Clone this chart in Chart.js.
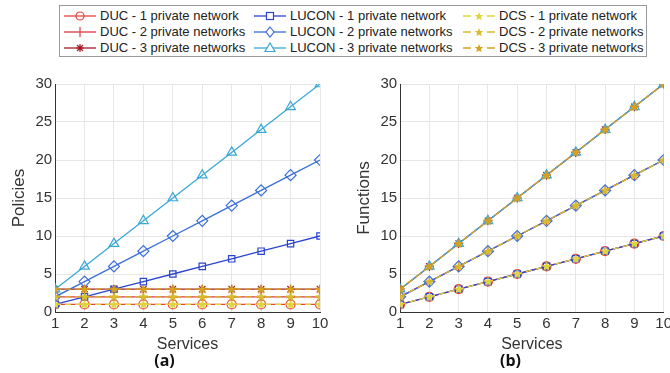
<!DOCTYPE html>
<html>
<head>
<meta charset="utf-8">
<script src="https://cdn.jsdelivr.net/npm/chart.js@4"></script>
<style>
  body { margin:0; background:#fff; font-family:"Liberation Sans", Arial, sans-serif; }
  #wrap { position:relative; width:670px; height:373px; overflow:hidden; }
  #legend { position:absolute; left:59px; top:5px; width:588px; height:52px; border:1px solid #999; box-sizing:border-box; }
  .item { position:absolute; height:16px; font-size:13px; line-height:16px; color:#222; white-space:nowrap; }
  .item svg { position:absolute; left:0; top:0; }
  .item span { position:absolute; left:37px; top:0; }
  .box { position:absolute; }
</style>
</head>
<body>
<div id="wrap">
  <div id="legend"></div>
  <div class="box" style="left:0;top:62px;width:335px;height:310px;"><canvas id="chartA"></canvas></div>
  <div class="box" style="left:335px;top:62px;width:340px;height:310px;"><canvas id="chartB"></canvas></div>
</div>
<script>
const services = [1, 2, 3, 4, 5, 6, 7, 8, 9, 10];

// (a) Policies
const polDuc1 = [1, 1, 1, 1, 1, 1, 1, 1, 1, 1];
const polDuc2 = [2, 2, 2, 2, 2, 2, 2, 2, 2, 2];
const polDuc3 = [3, 3, 3, 3, 3, 3, 3, 3, 3, 3];
const polLucon1 = [1, 2, 3, 4, 5, 6, 7, 8, 9, 10];
const polLucon2 = [2, 4, 6, 8, 10, 12, 14, 16, 18, 20];
const polLucon3 = [3, 6, 9, 12, 15, 18, 21, 24, 27, 30];
const polDcs1 = [1, 1, 1, 1, 1, 1, 1, 1, 1, 1];
const polDcs2 = [2, 2, 2, 2, 2, 2, 2, 2, 2, 2];
const polDcs3 = [3, 3, 3, 3, 3, 3, 3, 3, 3, 3];

// (b) Functions
const funDuc1 = [1, 2, 3, 4, 5, 6, 7, 8, 9, 10];
const funDuc2 = [2, 4, 6, 8, 10, 12, 14, 16, 18, 20];
const funDuc3 = [3, 6, 9, 12, 15, 18, 21, 24, 27, 30];
const funLucon1 = [1, 2, 3, 4, 5, 6, 7, 8, 9, 10];
const funLucon2 = [2, 4, 6, 8, 10, 12, 14, 16, 18, 20];
const funLucon3 = [3, 6, 9, 12, 15, 18, 21, 24, 27, 30];
const funDcs1 = [1, 2, 3, 4, 5, 6, 7, 8, 9, 10];
const funDcs2 = [2, 4, 6, 8, 10, 12, 14, 16, 18, 20];
const funDcs3 = [3, 6, 9, 12, 15, 18, 21, 24, 27, 30];

const yTicks = [0, 5, 10, 15, 20, 25, 30];

const seriesNames = [
  "DUC - 1 private network", "DUC - 2 private networks", "DUC - 3 private networks",
  "LUCON - 1 private network", "LUCON - 2 private networks", "LUCON - 3 private networks",
  "DCS - 1 private network", "DCS - 2 private networks", "DCS - 3 private networks"
];
const colors = ["#e8413c", "#d93a45", "#a31c28", "#2a44d0", "#3a6fd8", "#3aa8d6", "#e0d43c", "#d8bc2c", "#d6a21e"];
const shapes = ["circle", "cross", "star", "rect", "rectRot", "triangle", "fstar", "fstar", "fstar"];

// filled 5-point star marker for DCS
function starImage(color) {
  const c = document.createElement("canvas");
  c.width = 11; c.height = 11;
  const g = c.getContext("2d");
  g.beginPath();
  for (let i = 0; i < 10; i++) {
    const r = i % 2 === 0 ? 5.3 : 2.3;
    const a = -Math.PI / 2 + i * Math.PI / 5;
    const px = 5.5 + r * Math.cos(a), py = 5.8 + r * Math.sin(a);
    if (i === 0) g.moveTo(px, py); else g.lineTo(px, py);
  }
  g.closePath();
  g.fillStyle = color;
  g.fill();
  return c;
}

function makeDatasets(arrs) {
  return arrs.map((d, i) => {
    const dashed = i >= 6;
    const shape = shapes[i];
    return {
      label: seriesNames[i],
      data: d.map((v, k) => ({ x: services[k], y: v })),
      order: arrs.length - i, // later series drawn on top
      borderColor: colors[i],
      backgroundColor: shape === "fstar" ? colors[i] : "rgba(0,0,0,0)",
      borderWidth: 1.3,
      borderDash: dashed ? [6, 4] : [],
      pointStyle: shape === "fstar" ? starImage(colors[i]) : shape,
      pointRadius: shape === "triangle" ? 5.5 : (shape === "rectRot" ? 5.5 : 4.5),
      pointBorderWidth: 1.2,
      pointBorderColor: colors[i],
      pointBackgroundColor: "rgba(0,0,0,0)",
      tension: 0
    };
  });
}

function makeChart(id, arrs, yTitle, sub, pad) {
  return new Chart(document.getElementById(id), {
    type: "line",
    data: { datasets: makeDatasets(arrs) },
    options: {
      responsive: true,
      maintainAspectRatio: false,
      animation: false,
      layout: { padding: pad },
      plugins: {
        legend: { display: false },
        tooltip: { enabled: false },
        subtitle: {
          display: true, text: sub, position: "bottom", color: "#111",
          font: { family: "Open Sans", size: 16, weight: "bold", lineHeight: 1.0 },
          padding: { top: 0, bottom: 3 }
        }
      },
      scales: {
        x: {
          type: "linear", min: 1, max: 10,
          afterBuildTicks: ax => { ax.ticks = services.map(v => ({ value: v })); },
          grid: { color: "#e6e6e6", drawTicks: false },
          border: { color: "#333", width: 1 },
          ticks: { color: "#333", font: { family: "Liberation Sans", size: 15 }, padding: 3, maxRotation: 0 },
          title: { display: true, text: "Services", color: "#333", font: { family: "Liberation Sans", size: 16, lineHeight: 1.0 }, padding: { top: 1, bottom: 0 } }
        },
        y: {
          min: 0, max: 30,
          afterBuildTicks: ax => { ax.ticks = yTicks.map(v => ({ value: v })); },
          grid: { color: "#e6e6e6", drawTicks: false },
          border: { color: "#333", width: 1 },
          ticks: { color: "#333", font: { family: "Liberation Sans", size: 15 }, padding: 3 },
          title: { display: true, text: yTitle, color: "#333", font: { family: "Liberation Sans", size: 17 }, padding: { top: 0, bottom: 3 } }
        }
      }
    }
  });
}

makeChart("chartA", [polDuc1, polDuc2, polDuc3, polLucon1, polLucon2, polLucon3, polDcs1, polDcs2, polDcs3],
  "Policies", "(a)", { top: 22, right: 15, left: 9, bottom: 0 });
makeChart("chartB", [funDuc1, funDuc2, funDuc3, funLucon1, funLucon2, funLucon3, funDcs1, funDcs2, funDcs3],
  "Functions", "(b)", { top: 22, right: 8, left: 19, bottom: 0 });

// HTML legend, three columns
const legend = document.getElementById("legend");
const colX = [3, 193, 402];
const rowY = [2, 18, 34];
function markerSvg(shape, color) {
  const cx = 17, cy = 8;
  switch (shape) {
    case "circle": return `<circle cx="${cx}" cy="${cy}" r="4" fill="none" stroke="${color}" stroke-width="1.2"/>`;
    case "cross": return `<path d="M${cx} ${cy - 5}V${cy + 5}" stroke="${color}" stroke-width="1.2"/>`;
    case "star": return `<path d="M${cx - 4} ${cy}H${cx + 4}M${cx} ${cy - 4}V${cy + 4}M${cx - 3} ${cy - 3}L${cx + 3} ${cy + 3}M${cx - 3} ${cy + 3}L${cx + 3} ${cy - 3}" stroke="${color}" stroke-width="1.2"/>`;
    case "rect": return `<rect x="${cx - 3.5}" y="${cy - 3.5}" width="7" height="7" fill="#fff" stroke="${color}" stroke-width="1.2"/>`;
    case "rectRot": return `<path d="M${cx} ${cy - 5}L${cx + 4} ${cy}L${cx} ${cy + 5}L${cx - 4} ${cy}Z" fill="#fff" stroke="${color}" stroke-width="1.2"/>`;
    case "triangle": return `<path d="M${cx} ${cy - 5}L${cx + 5} ${cy + 3.5}L${cx - 5} ${cy + 3.5}Z" fill="#fff" stroke="${color}" stroke-width="1.2"/>`;
    default: {
      let p = "";
      for (let i = 0; i < 10; i++) {
        const r = i % 2 === 0 ? 4.5 : 2;
        const a = -Math.PI / 2 + i * Math.PI / 5;
        p += (i === 0 ? "M" : "L") + (cx + r * Math.cos(a)).toFixed(2) + " " + (cy + 0.5 + r * Math.sin(a)).toFixed(2);
      }
      return `<path d="${p}Z" fill="${color}"/>`;
    }
  }
}
seriesNames.forEach((name, i) => {
  const col = Math.floor(i / 3), row = i % 3;
  const dashed = col === 2;
  const line = dashed
    ? `<path d="M1 8H9M25 8H33" stroke="${colors[i]}" stroke-width="1.3"/>`
    : `<path d="M1 8H33" stroke="${colors[i]}" stroke-width="1.3"/>`;
  const div = document.createElement("div");
  div.className = "item";
  div.style.left = colX[col] + "px";
  div.style.top = rowY[row] + "px";
  div.innerHTML = `<svg width="34" height="16">${line}${markerSvg(shapes[i], colors[i])}</svg><span>${name}</span>`;
  legend.appendChild(div);
});
</script>
</body>
</html>
